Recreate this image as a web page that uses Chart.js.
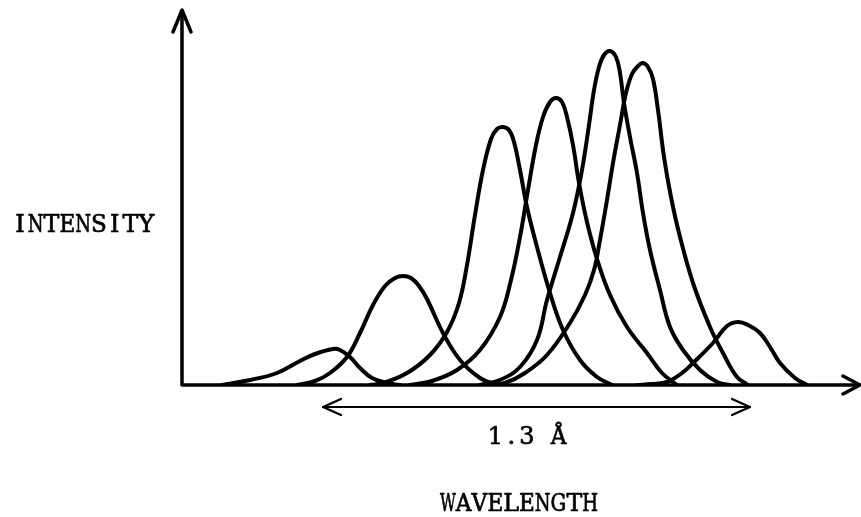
<!DOCTYPE html>
<html>
<head>
<meta charset="utf-8">
<script src="https://cdn.jsdelivr.net/npm/chart.js@4"></script>
<style>
  html, body { margin: 0; padding: 0; background: #fff; }
  #wrap { width: 861px; height: 517px; position: relative; }
</style>
</head>
<body>
<div id="wrap"><canvas id="spectrum"></canvas></div>
<script>
// wavelength positions (arbitrary units) and intensities of each line profile
const line1X = [40, 68, 95, 118, 133, 151, 158, 168, 178, 190, 205, 218];
const line1Y = [0, 5, 12, 24, 31, 36, 35, 28, 17, 7, 2, 0];

const line2X = [115, 133, 148, 165, 178, 191, 203, 213, 221, 229, 237, 245, 261, 278, 298, 315];
const line2Y = [0, 4, 12, 28, 52, 80, 99, 107, 109, 107, 99, 86, 52, 25, 7, 0];

const line3X = [188, 201, 225, 248, 265, 277, 285, 293, 301, 309, 315, 321, 327, 332, 338, 345, 355, 368, 381, 398, 415, 430];
const line3Y = [0, 2, 12, 30, 53, 82, 120, 170, 215, 246, 256, 258, 255, 243, 215, 178, 138, 92, 55, 25, 8, 0];

const line4X = [228, 250, 275, 298, 318, 329, 338, 346, 354, 361, 368, 374, 380, 385, 391, 397, 405, 415, 428, 445, 465, 480, 495];
const line4Y = [0, 4, 15, 35, 68, 105, 148, 195, 240, 268, 283, 287, 283, 268, 240, 202, 163, 126, 90, 58, 32, 12, 0];

const line5X = [298, 318, 338, 355, 365, 378, 391, 400, 407, 412, 417, 422, 428, 434, 438, 442, 448, 455, 461, 468, 478, 488, 501, 518, 535, 548];
const line5Y = [0, 5, 18, 45, 85, 128, 172, 215, 260, 295, 318, 330, 334, 328, 312, 282, 248, 212, 172, 135, 95, 58, 35, 15, 3, 0];

const line6X = [308, 323, 343, 365, 388, 403, 412, 418, 425, 431, 438, 444, 450, 456, 461, 466, 471, 476, 482, 489, 497, 511, 528, 541, 555, 566];
const line6Y = [0, 2, 12, 30, 62, 90, 115, 145, 185, 222, 260, 292, 311, 319, 322, 318, 306, 275, 228, 188, 152, 102, 58, 32, 8, 0];

const line7X = [455, 470, 485, 500, 511, 531, 545, 556, 566, 578, 588, 598, 613, 625];
const line7Y = [0, 1, 3, 12, 22, 42, 59, 63, 60, 52, 38, 22, 7, 0];

// span marker under the axis
const spanFrom = 141;
const spanTo = 568;
const spanLabel = '1.3 Å';

const lines = [
    [line1X, line1Y], [line2X, line2Y], [line3X, line3Y], [line4X, line4Y],
    [line5X, line5Y], [line6X, line6Y], [line7X, line7Y]
];

const FONT = '24px "DejaVu Serif", "Liberation Serif", serif';
const CELL = 15.8;

function arrowHead(ctx, x, y, dx, dy, len, half) {
    // open V arrowhead pointing in direction (dx, dy)
    const px = -dy, py = dx;
    ctx.beginPath();
    ctx.moveTo(x - dx * len + px * half, y - dy * len + py * half);
    ctx.lineTo(x, y);
    ctx.lineTo(x - dx * len - px * half, y - dy * len - py * half);
    ctx.stroke();
}

// typewriter look: every character in a cell of the same width
function typeText(ctx, text, left, midY) {
    ctx.font = FONT;
    ctx.textAlign = 'center';
    ctx.textBaseline = 'middle';
    ctx.lineWidth = 0.7;
    [...text].forEach((ch, i) => {
        const w = ctx.measureText(ch).width;
        const cx = left + CELL * (i + 0.5);
        const sx = w > CELL ? CELL / w : 1;
        ctx.save();
        ctx.translate(cx, midY);
        ctx.scale(sx, 1);
        ctx.fillText(ch, 0, 0);
        ctx.strokeText(ch, 0, 0);
        ctx.restore();
    });
}

const axesPlugin = {
    id: 'handAxes',
    beforeDatasetsDraw(chart) {
        const ctx = chart.ctx;
        const xs = chart.scales.x, ys = chart.scales.y;
        const x0 = xs.getPixelForValue(0);
        const y0 = ys.getPixelForValue(0);
        const xEnd = xs.getPixelForValue(xs.max);
        const yEnd = ys.getPixelForValue(ys.max);

        ctx.save();
        ctx.strokeStyle = '#000';
        ctx.lineCap = 'round';
        ctx.lineJoin = 'round';
        ctx.lineWidth = 3.5;
        ctx.beginPath();
        ctx.moveTo(x0, yEnd + 2);
        ctx.lineTo(x0, y0);
        ctx.lineTo(xEnd - 2, y0);
        ctx.stroke();
        arrowHead(ctx, x0, yEnd, 0, -1, 22, 9);
        arrowHead(ctx, xEnd, y0, 1, 0, 17, 9);

        // 1.3 A span
        const sa = xs.getPixelForValue(spanFrom);
        const sb = xs.getPixelForValue(spanTo);
        const sy = y0 + 22;
        ctx.lineWidth = 2.2;
        ctx.beginPath();
        ctx.moveTo(sa, sy);
        ctx.lineTo(sb, sy);
        ctx.stroke();
        arrowHead(ctx, sa, sy, -1, 0, 18, 8);
        arrowHead(ctx, sb, sy, 1, 0, 18, 8);

        ctx.fillStyle = '#000';
        typeText(ctx, spanLabel, 527 - CELL * 2.5, 438);
        typeText(ctx, 'WAVELENGTH', 519 - CELL * 5, 505);
        typeText(ctx, 'INTENSITY', 12, 226);
        ctx.restore();
    }
};

const datasets = lines.map(([xs, ys]) => ({
    data: xs.map((x, i) => ({ x: x, y: ys[i] })),
    borderColor: '#000',
    borderWidth: 4,
    pointRadius: 0,
    fill: false,
    tension: 0.4,
    borderCapStyle: 'round',
    borderJoinStyle: 'round'
}));

const ctxSpectrum = document.getElementById('spectrum').getContext('2d');

const spectrumChart = new Chart(ctxSpectrum, {
    type: 'line',
    data: { datasets: datasets },
    options: {
        responsive: true,
        maintainAspectRatio: false,
        animation: false,
        events: [],
        layout: { padding: { left: 182, right: 1, top: 10, bottom: 132 } },
        plugins: { legend: { display: false }, tooltip: { enabled: false } },
        scales: {
            x: { type: 'linear', min: 0, max: 678, display: false },
            y: { type: 'linear', min: 0, max: 375, display: false }
        }
    },
    plugins: [axesPlugin]
});
</script>
</body>
</html>
